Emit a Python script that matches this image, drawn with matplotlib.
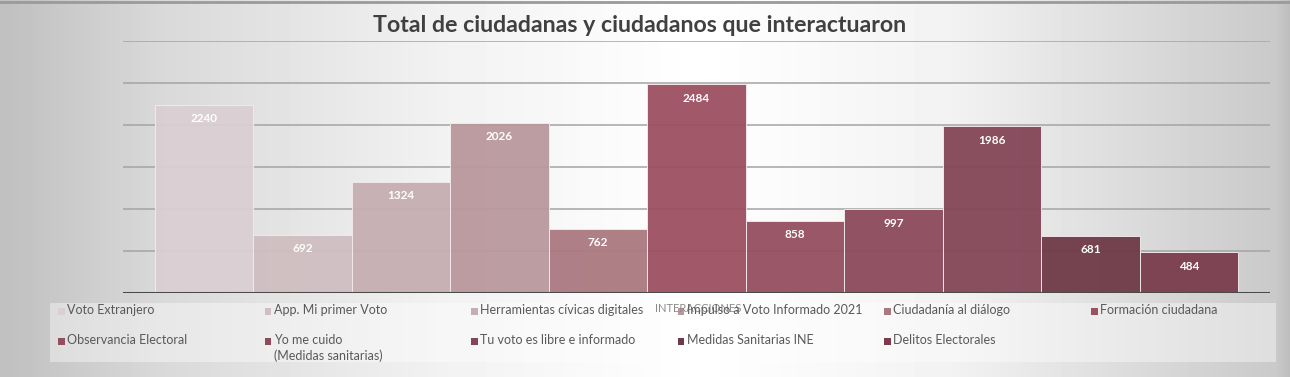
import matplotlib.pyplot as plt
import numpy as np
from matplotlib.patches import Rectangle

categorias = ["Voto Extranjero", "App. Mi primer Voto", "Herramientas cívicas digitales",
              "Impulso a Voto Informado 2021", "Ciudadanía al diálogo", "Formación ciudadana",
              "Observancia Electoral", "Yo me cuido\n(Medidas sanitarias)",
              "Tu voto es libre e informado", "Medidas Sanitarias INE", "Delitos Electorales"]
valores = [2240, 692, 1324, 2026, 762, 2484, 858, 997, 1986, 681, 484]
colores = ["#dacfd2", "#d0bec1", "#c5aeb2", "#b9989d", "#aa7980", "#9c5062",
           "#944e5f", "#8c4a5b", "#844657", "#6e3a47", "#7a3c4c"]
yticks = [0, 500, 1000, 1500, 2000, 2500, 3000]

W, H = 1290, 377
fig = plt.figure(figsize=(W / 100, H / 100), dpi=100)

# fondo con degradado gris-blanco-gris
bg = fig.add_axes([0, 0, 1, 1])
xs = np.arange(W)
prof = np.interp(xs, [0, 160, 450, 700, 950, 1130, 1275, 1290],
                 [0.75, 0.85, 0.95, 1.0, 0.95, 0.86, 0.79, 0.74])
img = np.tile(prof, (20, 1))
bg.imshow(img, cmap="gray", vmin=0, vmax=1, aspect="auto", extent=[0, 1, 0, 1])
bg.plot([0, 1], [0.996, 0.996], color="#9a9a9a", lw=2)
bg.set_xlim(0, 1)
bg.set_ylim(0, 1)
bg.axis("off")

ax = fig.add_axes([123 / W, 1 - 293 / H, (1270 - 123) / W, (293 - 41) / H])
ax.patch.set_alpha(0)
x = np.arange(len(valores))
bars = ax.bar(x, valores, width=1.0, color=colores, alpha=0.95,
              edgecolor="#f2eaec", linewidth=0.7, zorder=2)
ax.bar_label(bars, labels=[str(v) for v in valores], padding=-14,
             color="white", fontsize=8.5, fontweight="bold", family="Lato")

for t in yticks[1:]:
    ax.axhline(t, color="#a4a4a4", lw=1.1, zorder=1)
ax.axhline(0, color="#4a4a4a", lw=2.2, zorder=3)

ax.set_xlim(-0.5 - 0.325, 10.5 + 0.325)
ax.set_ylim(0, 3000)
ax.set_xticks([])
ax.set_yticks([])
for s in ax.spines.values():
    s.set_visible(False)

# etiqueta del eje (queda detras de la leyenda)
fig.text(698 / W, 1 - 308 / H, "INTERACCIONES", ha="center", va="center",
         fontsize=8, color="#8a8a8a", family="Lato")

# caja de la leyenda
bg.add_patch(Rectangle((50 / W, 1 - 362 / H), (1276 - 50) / W, (362 - 303) / H,
                       facecolor="white", alpha=0.4, edgecolor="none", zorder=3))

for i, (lab, c) in enumerate(zip(categorias, colores)):
    col, row = i % 6, i // 6
    px = 58 + col * 206.6
    py = 311 + row * 30
    bg.add_patch(Rectangle((px / W, 1 - (py + 3.5) / H), 6.5 / W, 7 / H,
                           facecolor=c, edgecolor="none", zorder=4))
    fig.text((px + 9) / W, 1 - (py - 6.5) / H, lab, ha="left", va="top",
             fontsize=9, color="#595959", family="Lato", linespacing=1.25)

fig.text(640 / W, 1 - 26 / H, "Total de ciudadanas y ciudadanos que interactuaron",
         ha="center", va="center", fontsize=16.7, fontweight="bold",
         color="#404040", family="Lato")

fig.savefig("out.png", dpi=100)
